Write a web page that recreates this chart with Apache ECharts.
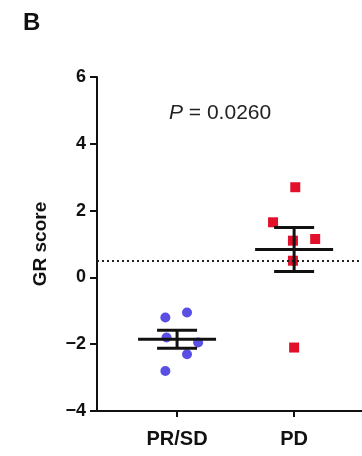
<!DOCTYPE html>
<html>
<head>
<meta charset="utf-8">
<script src="https://cdn.jsdelivr.net/npm/echarts@6/dist/echarts.min.js"></script>
<style>
  html, body { margin: 0; padding: 0; background: #fff; }
  #chart { width: 362px; height: 456px; }
</style>
</head>
<body>
<div id="chart"></div>
<script>
const categories = ['PR/SD', 'PD'];
const yTicks = [-4, -2, 0, 2, 4, 6];
// GR score per patient
const prsdScores = [-1.2, -1.05, -1.95, -2.3, -2.8, -1.8];
const prsdJitter = [-0.1, 0.085, 0.18, 0.085, -0.1, -0.09];
const pdScores = [2.7, 1.65, 1.15, 1.1, 0.5, -2.1];
const pdJitter = [0.01, -0.18, 0.18, -0.01, -0.01, 0];
const cutoff = 0.5;
const pValue = '0.0260';

const meanSem = arr => {
  const n = arr.length;
  const m = arr.reduce((a, b) => a + b, 0) / n;
  const sd = Math.sqrt(arr.reduce((a, b) => a + (b - m) * (b - m), 0) / (n - 1));
  const sem = sd / Math.sqrt(n);
  return [m, m - sem, m + sem];
};

const toPoints = (scores, jitter, idx) => scores.map((v, i) => [idx + jitter[i], v]);
const bars = [prsdScores, pdScores].map((s, i) => [i].concat(meanSem(s)));

const chart = echarts.init(document.getElementById('chart'));
const font = 'Liberation Sans, Arial, sans-serif';

chart.setOption({
  animation: false,
  title: [
    { text: 'B', left: 18, top: 6, textStyle: { fontFamily: font, fontSize: 24, fontWeight: 'bold', color: '#111' } },
    {
      text: '{i|P} = ' + pValue, left: 164, top: 98,
      textStyle: { fontFamily: font, fontSize: 21, fontWeight: 'normal', color: '#222',
        rich: { i: { fontFamily: font, fontSize: 21, fontStyle: 'italic', color: '#222' } } }
    }
  ],
  grid: { left: 97, right: 0, top: 77, bottom: 45 },
  xAxis: {
    type: 'value', min: -0.684, max: 1.58,
    splitLine: { show: false },
    axisLine: { onZero: false, lineStyle: { color: '#111', width: 2 } },
    axisTick: { customValues: [0, 1], length: 6, lineStyle: { color: '#111', width: 2 } },
    axisLabel: {
      customValues: [0, 1], margin: 18,
      formatter: v => categories[Math.round(v)] || '',
      fontFamily: font, fontSize: 20, fontWeight: 'bold', color: '#111'
    }
  },
  yAxis: {
    type: 'value', min: -4, max: 6, interval: 2,
    name: 'GR score', nameLocation: 'middle', nameGap: 47,
    nameTextStyle: { fontFamily: font, fontSize: 19, fontWeight: 'bold', color: '#111' },
    splitLine: { show: false },
    axisLine: { show: true, onZero: false, lineStyle: { color: '#111', width: 2 } },
    axisTick: { show: true, length: 7, lineStyle: { color: '#111', width: 2 } },
    axisLabel: {
      margin: 11,
      formatter: v => yTicks.includes(v) ? (v < 0 ? '\u2212' + Math.abs(v) : String(v)) : '',
      fontFamily: font, fontSize: 18, fontWeight: 'bold', color: '#111'
    }
  },
  series: [
    {
      type: 'scatter', name: 'PR/SD', symbol: 'circle', symbolSize: 10,
      itemStyle: { color: '#5a4fe4', opacity: 1 },
      data: toPoints(prsdScores, prsdJitter, 0),
      markLine: {
        silent: true, symbol: 'none', label: { show: false },
        lineStyle: { color: '#222', width: 2, type: [2, 3] },
        data: [{ yAxis: cutoff }]
      }
    },
    {
      type: 'scatter', name: 'PD', symbol: 'rect', symbolSize: 10,
      itemStyle: { color: '#e3102c', opacity: 1 },
      data: toPoints(pdScores, pdJitter, 1)
    },
    {
      type: 'custom', z: 5,
      renderItem: (params, api) => {
        const x = api.value(0);
        const mid = api.coord([x, api.value(1)]);
        const lo = api.coord([x, api.value(2)]);
        const hi = api.coord([x, api.value(3)]);
        const style = { stroke: '#111', lineWidth: 3 };
        return {
          type: 'group',
          children: [
            { type: 'line', shape: { x1: mid[0] - 39, y1: mid[1], x2: mid[0] + 39, y2: mid[1] }, style },
            { type: 'line', shape: { x1: hi[0], y1: hi[1], x2: lo[0], y2: lo[1] }, style },
            { type: 'line', shape: { x1: hi[0] - 20, y1: hi[1], x2: hi[0] + 20, y2: hi[1] }, style },
            { type: 'line', shape: { x1: lo[0] - 20, y1: lo[1], x2: lo[0] + 20, y2: lo[1] }, style }
          ]
        };
      },
      data: bars
    }
  ]
});
</script>
</body>
</html>
